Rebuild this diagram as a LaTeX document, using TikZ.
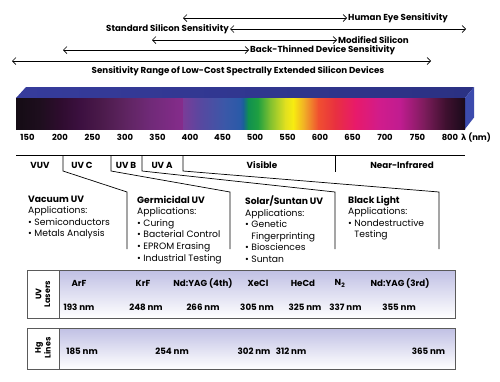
\documentclass[tikz,border=0pt]{standalone}
\usepackage{fontspec}
\setmainfont{Poppins}
\newfontfamily\lamfont{DejaVu Sans}
\usetikzlibrary{arrows.meta}
\definecolor{topface}{HTML}{2B3183}
\definecolor{topfaceL}{HTML}{363C9C}
\definecolor{sideface}{HTML}{3C4BAD}
\definecolor{boxtop}{HTML}{C0C0E4}
\definecolor{frame}{HTML}{5A5A5A}
\tikzset{
  lbl/.style={font=\fontsize{8.7}{10}\selectfont\bfseries, inner sep=1pt},
  arr/.style={{Straight Barb[length=3.5pt,width=7pt]}-{Straight Barb[length=3.5pt,width=7pt]}, line width=0.7pt},
  tick/.style={font=\fontsize{8.4}{10}\selectfont\bfseries, inner sep=0pt},
  band/.style={font=\fontsize{8.8}{10}\selectfont\bfseries, inner sep=0pt},
  app/.style={font=\fontsize{9.2}{11.6}\selectfont, align=left, anchor=north west, inner sep=0pt},
  sep/.style={line width=0.7pt},
  boxframe/.style={draw=frame, line width=0.8pt},
  entry/.style={font=\fontsize{8.7}{10}\selectfont\bfseries, inner sep=0pt},
  side/.style={font=\fontsize{8}{8.6}\selectfont\bfseries, rotate=90, align=center, inner sep=0pt},
}
\begin{document}
\begin{tikzpicture}[x=1pt,y=-1pt]
\useasboundingbox (0,0) rectangle (500,381);
\fill[white] (0,0) rectangle (500,381);
% sensitivity arrows
\node[lbl, anchor=west] (he) at (347,18) {Human Eye Sensitivity};
\coordinate (he0) at (183,18);
\draw[arr] (he0) -- (he.west);
\node[lbl, anchor=east] (ss) at (230,29) {Standard Silicon Sensitivity};
\coordinate (ss1) at (466,29);
\draw[arr] (ss.east) -- (ss1);
\node[lbl, anchor=west] (ms) at (337,40) {Modified Silicon};
\coordinate (ms0) at (152,40);
\draw[arr] (ms0) -- (ms.west);
\node[lbl, anchor=west] (bt) at (249,50) {Back-Thinned Device Sensitivity};
\coordinate (bt0) at (63,50);
\draw[arr] (bt0) -- (bt.west);
\coordinate (sr0) at (12,61);
\coordinate (sr1) at (431,61);
\draw[arr] (sr0) -- (sr1);
\node[lbl] (sr) at (238,71) {Sensitivity Range of Low-Cost Spectrally Extended Silicon Devices};
% spectrum bar 3D faces
\shade[left color=topfaceL, right color=topface] (16,98) -- (26,87) -- (474,87) -- (465,98) -- cycle;
\fill[sideface] (465,98) -- (474,87) -- (474,117.5) -- (465,129) -- cycle;
% spectrum front
\def\specseg#1#2#3#4{\shade[left color=#2, right color=#4] (#1,98) rectangle (#3,129.2);}
\definecolor{s0}{HTML}{140C14}
\definecolor{s1}{HTML}{1E0E1E}
\definecolor{s2}{HTML}{2E0C2E}
\definecolor{s3}{HTML}{3C1040}
\definecolor{s4}{HTML}{4A1A4A}
\definecolor{s5}{HTML}{5E2460}
\definecolor{s6}{HTML}{702A78}
\definecolor{s7}{HTML}{862C8C}
\definecolor{s8}{HTML}{7A3C98}
\definecolor{s9}{HTML}{5848A0}
\definecolor{s10}{HTML}{3A58A8}
\definecolor{s11}{HTML}{2A5AA8}
\definecolor{s12}{HTML}{1A6098}
\definecolor{s13}{HTML}{109050}
\definecolor{s14}{HTML}{20A040}
\definecolor{s15}{HTML}{80C030}
\definecolor{s16}{HTML}{E0E020}
\definecolor{s17}{HTML}{F8EC10}
\definecolor{s18}{HTML}{F0A828}
\definecolor{s19}{HTML}{F05030}
\definecolor{s20}{HTML}{E83040}
\definecolor{s21}{HTML}{E81A6A}
\definecolor{s22}{HTML}{D01C8C}
\definecolor{s23}{HTML}{C01C90}
\definecolor{s24}{HTML}{7A1C5A}
\definecolor{s25}{HTML}{401030}
\definecolor{s26}{HTML}{1A0A1A}
\specseg{16}{s0}{40.3}{s1}
\specseg{40}{s1}{60.3}{s2}
\specseg{60}{s2}{80.3}{s3}
\specseg{80}{s3}{100.3}{s4}
\specseg{100}{s4}{125.3}{s5}
\specseg{125}{s5}{150.3}{s6}
\specseg{150}{s6}{183.3}{s7}
\specseg{183}{s8}{200.3}{s9}
\specseg{200}{s9}{225.3}{s10}
\specseg{225}{s10}{240.3}{s11}
\specseg{240}{s11}{243.3}{s12}
\specseg{243}{s12}{248.3}{s13}
\specseg{248}{s13}{258.3}{s14}
\specseg{258}{s14}{270.3}{s15}
\specseg{270}{s15}{285.3}{s16}
\specseg{285}{s16}{293.3}{s17}
\specseg{293}{s17}{305.3}{s18}
\specseg{305}{s18}{318.3}{s19}
\specseg{318}{s19}{335.3}{s20}
\specseg{335}{s20}{355.3}{s21}
\specseg{355}{s21}{380.3}{s22}
\specseg{380}{s22}{400.3}{s23}
\specseg{400}{s23}{425.3}{s24}
\specseg{425}{s24}{445.3}{s25}
\specseg{445}{s25}{465}{s26}
% wavelength ticks
\foreach \w in {150,200,...,800}{
  \node[tick] (t\w) at ({27.5+(\w-150)*0.65},137.5) {\w};
}
\node[tick, anchor=west] (lam) at (461,137.5) {{\lamfont\fontsize{8.4}{10}\selectfont λ} (nm)};
% band line
\draw[sep] (16,155) -- (465,155);
\draw[sep] (63,155) -- (63,171) -- (127,192) -- (127,249);
\draw[sep] (111,155) -- (111,171) -- (230,192) -- (230,249);
\draw[sep] (142,155) -- (142,171) -- (335,192) -- (335,249);
\draw[sep] (183,155) -- (183,171) -- (439,192) -- (439,249);
\draw[sep] (335,155) -- (335,172);
\node[band] (vuv) at (40,165) {VUV};
\node[band] (uvc) at (82,165) {UV C};
\node[band] (uvb) at (126,165) {UV B};
\node[band] (uva) at (162,165) {UV A};
\node[band] (vis) at (262,165) {Visible};
\node[band] (nir) at (402,165) {Near-Infrared};
% applications
\node[app] (a1) at (28,195.5) {\textbf{Vacuum UV}\\Applications:\\• Semiconductors\\• Metals Analysis};
\node[app] (a2) at (137,195.5) {\textbf{Germicidal UV}\\Applications:\\• Curing\\• Bacterial Control\\• EPROM Erasing\\• Industrial Testing};
\node[app] (a3) at (245,195.5) {\textbf{Solar/Suntan UV}\\Applications:\\• Genetic\\\phantom{• }Fingerprinting\\• Biosciences\\• Suntan};
\node[app] (a4) at (348,195.5) {\textbf{Black Light}\\Applications:\\• Nondestructive\\\phantom{• }Testing};
% UV lasers box
\shade[top color=boxtop, bottom color=white] (59,270) rectangle (455,318);
\draw[boxframe] (27,270) rectangle (455,318);
\draw[boxframe] (59,270) -- (59,318);
\node[side] (uvl) at (43,294) {UV\\Lasers};
\foreach \x/\t [count=\i] in {79/ArF, 143/KrF, 203/Nd:YAG (4th), 258/XeCl, 303/HeCd, 340/N\textsubscript{2}, 400/Nd:YAG (3rd)}{
  \node[entry] (ln\i) at (\x,283.3) {\t};
}
\foreach \x/\n [count=\i] in {79/193, 146/248, 203/266, 257/305, 305/325, 345.5/337, 399/355}{
  \node[entry] (lw\i) at (\x,307.3) {\n\ nm};
}
% Hg lines box
\shade[top color=boxtop, bottom color=white] (59,328) rectangle (455,369);
\draw[boxframe] (27,328) rectangle (455,369);
\draw[boxframe] (59,328) -- (59,369);
\node[side] (hgl) at (43,348) {Hg\\Lines};
\foreach \x/\n [count=\i] in {82/185, 172/254, 254/302, 291/312, 428.5/365}{
  \node[entry] (hg\i) at (\x,351) {\n\ nm};
}
\end{tikzpicture}
\end{document}
